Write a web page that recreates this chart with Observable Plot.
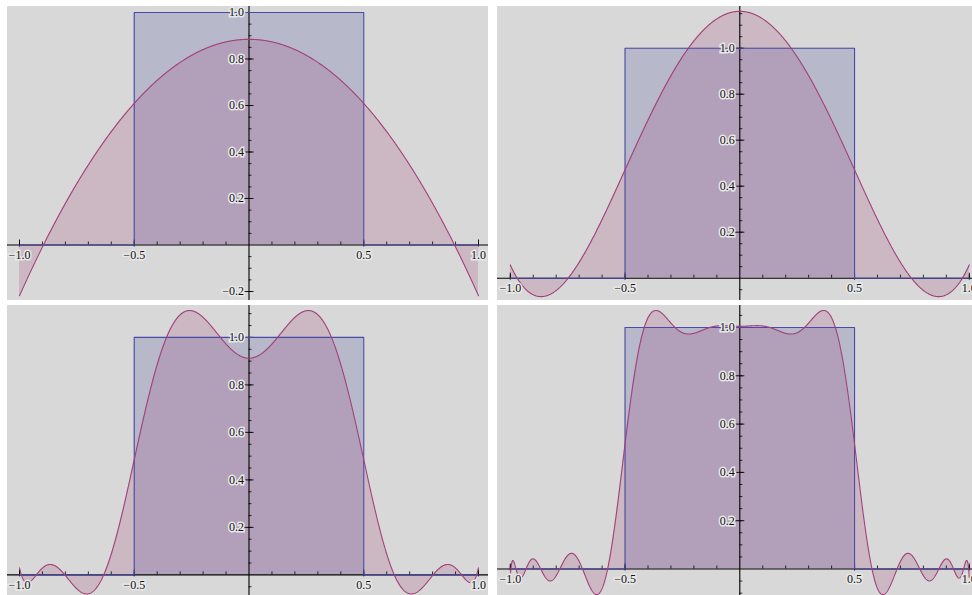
<!DOCTYPE html>
<html>
<head>
<meta charset="utf-8">
<script src="https://cdn.jsdelivr.net/npm/d3@7"></script>
<script src="https://cdn.jsdelivr.net/npm/@observablehq/plot@0.6"></script>
<style>
  html, body { margin: 0; padding: 0; background: #ffffff; }
  #grid { position: relative; width: 972px; height: 595px; overflow: hidden; background: #ffffff; }
  #grid svg { position: absolute; }
</style>
</head>
<body>
<div id="grid"></div>
<script>
// Rectangular pulse on [-1, 1]
const pulseX = [-1, -0.5, -0.5, 0.5, 0.5, 1];
const pulseY = [0, 0, 1, 1, 0, 0];

// Chebyshev expansion of the pulse: nonzero terms (degree, coefficient)
const chebDegrees = [0, 2, 4, 8, 10, 14, 16, 20];
const chebCoeffs = [0.333333, -0.551329, 0.275664, -0.137832, 0.110266, -0.078761, 0.068916, -0.055133];

// Truncation order shown in each panel (reading order)
const panelOrders = [2, 4, 10, 20];

// Axis ticks
const xMajorTicks = [-1.0, -0.5, 0.5, 1.0];
const xMinorTicks = [-1.0, -0.9, -0.8, -0.7, -0.6, -0.5, -0.4, -0.3, -0.2, -0.1, 0.1, 0.2, 0.3, 0.4, 0.5, 0.6, 0.7, 0.8, 0.9, 1.0];
const yLabelTicks = [
  [-0.2, 0.2, 0.4, 0.6, 0.8, 1.0],
  [0.2, 0.4, 0.6, 0.8, 1.0],
  [0.2, 0.4, 0.6, 0.8, 1.0],
  [0.2, 0.4, 0.6, 0.8, 1.0]
];

// Panel placement: left/top in page, size, pixel position of origin, pixels per unit
const panels = [
  {left: 7,   top: 6,   width: 481, height: 294, ox: 241.5, oy: 238.5, kx: 229.5, ky: 232.5},
  {left: 497, top: 6,   width: 484, height: 294, ox: 242.3, oy: 271.7, kx: 229.5, ky: 230},
  {left: 7,   top: 305, width: 481, height: 294, ox: 241.5, oy: 269.4, kx: 229.5, ky: 237.5},
  {left: 497, top: 305, width: 484, height: 294, ox: 242.3, oy: 263.5, kx: 229.5, ky: 241.5}
];

const bg = "#d8d8d8";
const pulseColor = "#3d3d99";
const curveColor = "#993d71";
const font = "Liberation Serif, Times New Roman, serif";
const fmt = d3.format(".1f");

function chebSum(x, order) {
  const t = Math.acos(Math.max(-1, Math.min(1, x)));
  let s = 0;
  chebDegrees.forEach((n, i) => { if (n <= order) s += chebCoeffs[i] * Math.cos(n * t); });
  return s;
}

const pulse = pulseX.map((x, i) => ({x, y: pulseY[i]}));
const grid = document.getElementById("grid");

panels.forEach((p, idx) => {
  const order = panelOrders[idx];
  const samples = d3.range(0, 1201).map(i => {
    const x = -1 + 2 * i / 1200;
    return {x, y: chebSum(x, order)};
  });
  const xDomain = [-p.ox / p.kx, (p.width - p.ox) / p.kx];
  const yDomain = [-(p.height - p.oy) / p.ky, p.oy / p.ky];
  const yMinor = d3.range(Math.ceil(yDomain[0] / 0.05), Math.floor(yDomain[1] / 0.05) + 1)
    .map(i => +(i * 0.05).toFixed(2)).filter(v => v !== 0);
  // tick lengths in data units
  const tx = n => n / p.kx;
  const ty = n => n / p.ky;

  const chart = Plot.plot({
    width: p.width,
    height: p.height,
    marginTop: 0, marginRight: 0, marginBottom: 0, marginLeft: 0,
    x: {domain: xDomain, axis: null},
    y: {domain: yDomain, axis: null},
    style: {background: bg, overflow: "visible"},
    marks: [
      Plot.areaY(pulse, {x: "x", y: "y", fill: pulseColor, fillOpacity: 0.2, curve: "linear"}),
      Plot.areaY(samples, {x: "x", y: "y", fill: curveColor, fillOpacity: 0.2}),
      Plot.ruleY([0], {stroke: "#000", strokeWidth: 1.1}),
      Plot.ruleX([0], {stroke: "#000", strokeWidth: 1.1}),
      // x ticks
      Plot.ruleX(xMinorTicks, {x: d => d, y1: 0, y2: ty(3), stroke: "#000", strokeWidth: 0.8}),
      Plot.ruleX(xMajorTicks, {x: d => d, y1: -ty(2), y2: ty(5), stroke: "#000", strokeWidth: 0.9}),
      // y ticks
      Plot.ruleY(yMinor, {y: d => d, x1: 0, x2: tx(3), stroke: "#000", strokeWidth: 0.8}),
      Plot.ruleY(yLabelTicks[idx], {y: d => d, x1: -tx(4), x2: tx(5), stroke: "#000", strokeWidth: 0.9}),
      Plot.line(pulse, {x: "x", y: "y", stroke: "#4a4aa8", strokeWidth: 1.1, curve: "linear"}),
      Plot.line(samples, {x: "x", y: "y", stroke: "#a3407a", strokeWidth: 1.1}),
      Plot.text(yLabelTicks[idx], {
        x: 0, y: d => d, text: d => fmt(d), textAnchor: "end", dx: -5,
        fill: "#111", stroke: "#e8e8e8", strokeWidth: 3, strokeLinejoin: "miter",
        fontFamily: font, fontSize: 12
      }),
      Plot.text(xMajorTicks, {
        x: d => d, y: 0, text: d => fmt(d), dy: 10,
        fill: "#111", stroke: "#e8e8e8", strokeWidth: 3, strokeLinejoin: "miter",
        fontFamily: font, fontSize: 12
      })
    ]
  });
  chart.style.left = p.left + "px";
  chart.style.top = p.top + "px";
  grid.appendChild(chart);
});
</script>
</body>
</html>
